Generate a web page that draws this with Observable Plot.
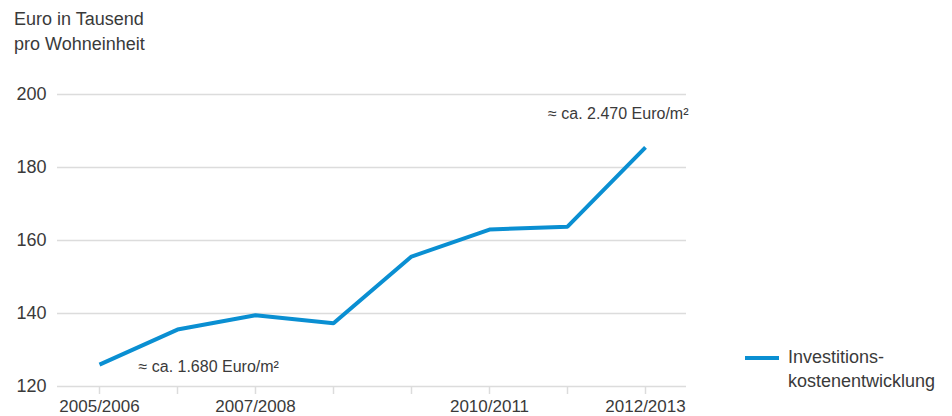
<!DOCTYPE html>
<html>
<head>
<meta charset="utf-8">
<script src="https://cdn.jsdelivr.net/npm/d3@7"></script>
<script src="https://cdn.jsdelivr.net/npm/@observablehq/plot@0.6"></script>
<style>
  html, body { margin: 0; padding: 0; background: #fff; }
  #wrap { position: relative; width: 952px; height: 416px; font-family: "Liberation Sans", Arial, sans-serif; color: #3a3a3a; }
  #title { position: absolute; left: 14px; top: 7px; font-size: 18px; line-height: 25px; }
  #legend { position: absolute; left: 745px; top: 345px; font-size: 18px; line-height: 24px; display: flex; align-items: flex-start; }
  #legend .sw { width: 34px; height: 4px; background: #0a8fd2; margin-top: 11px; margin-right: 9px; }
  svg { display: block; }
</style>
</head>
<body>
<div id="wrap">
  <div id="chart"></div>
  <div id="title">Euro in Tausend<br>pro Wohneinheit</div>
  <div id="legend"><div class="sw"></div><div>Investitions-<br>kostenentwicklung</div></div>
</div>
<script>
const years = ["2005/2006","2006/2007","2007/2008","2008/2009","2009/2010","2010/2011","2011/2012","2012/2013"];
const values = [126.0, 135.6, 139.5, 137.3, 155.6, 163.0, 163.8, 185.5];
const labeledYears = ["2005/2006","2007/2008","2010/2011","2012/2013"];
const yTicks = [120, 140, 160, 180, 200];
const noteTexts = ["≈ ca. 1.680 Euro/m²", "≈ ca. 2.470 Euro/m²"];
const noteX = ["2006/2007", "2012/2013"];
const noteY = [125.5, 194.8];

const data = years.map((y, i) => ({year: y, value: values[i]}));
const notes = noteTexts.map((t, i) => ({text: t, x: noteX[i], y: noteY[i]}));

const blue = "#0a8fd2";
const plot = Plot.plot({
  width: 952,
  height: 416,
  marginLeft: 57,
  marginRight: 266,
  marginTop: 94,
  marginBottom: 30,
  style: {fontFamily: "Liberation Sans, Arial, sans-serif", fontSize: "17px", color: "#3a3a3a", background: "#fff"},
  x: {type: "point", domain: years, padding: 0.5, label: null},
  y: {domain: [120, 200], label: null},
  marks: [
    Plot.ruleY(yTicks, {stroke: "#dcdcdc", strokeWidth: 1.5}),
    Plot.axisX({
      ticks: years,
      tickSize: 8,
      stroke: "#dcdcdc",
      strokeWidth: 1.5,
      strokeOpacity: 1,
      tickPadding: 5,
      fontSize: 17,
      fill: "#3a3a3a",
      tickFormat: d => labeledYears.includes(d) ? d : ""
    }),
    Plot.axisY({
      ticks: yTicks,
      tickSize: 0,
      tickPadding: 11,
      fontSize: 18,
      fill: "#3a3a3a"
    }),
    Plot.line(data, {x: "year", y: "value", stroke: blue, strokeWidth: 4, strokeLinejoin: "miter", strokeLinecap: "butt"}),
    Plot.text([notes[0]], {x: "x", y: "y", text: "text", textAnchor: "start", dx: -39, fontSize: 16, fill: "#3a3a3a"}),
    Plot.text([notes[1]], {x: "x", y: "y", text: "text", textAnchor: "end", dx: 43, fontSize: 16, fill: "#3a3a3a"})
  ]
});
document.getElementById("chart").appendChild(plot);
</script>
</body>
</html>
